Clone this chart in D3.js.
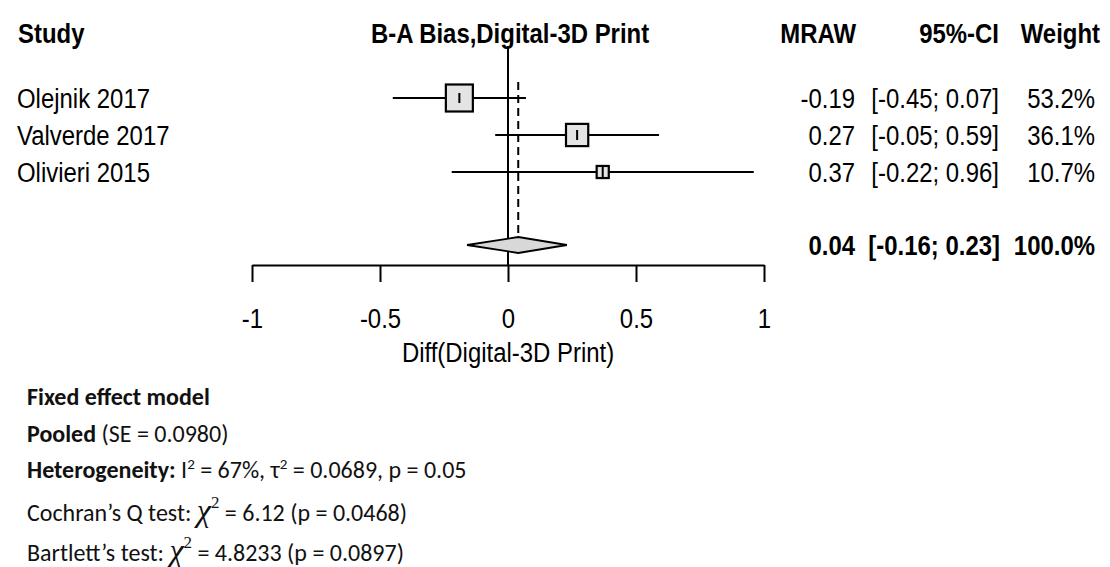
<!DOCTYPE html>
<html lang="en">
<head>
  <meta charset="UTF-8">
  <title>Forest plot</title>
  <style>
    body { margin: 0; background: #fff; }
    svg { display: block; }
    .nar { font-family: "Liberation Sans", Arial, sans-serif; font-size: 28px; }
    .cal { font-family: Carlito, Lato, sans-serif; }
  </style>
</head>
<body>
  <svg width="1110" height="567"></svg>
  <script src="https://d3js.org/d3.v7.min.js"></script>
  <script>
    // study-level data
    var studies = ['Olejnik 2017', 'Valverde 2017', 'Olivieri 2015'];
    var mraw = [-0.19, 0.27, 0.37];
    var ciLow = [-0.45, -0.05, -0.22];
    var ciHigh = [0.07, 0.59, 0.96];
    var weights = [53.2, 36.1, 10.7];
    // fixed effect summary: estimate, lower, upper, weight
    var pooled = [0.04, -0.16, 0.23, 100.0];
    var xTicks = [-1, -0.5, 0, 0.5, 1];
    var headers = ['Study', 'B-A Bias,Digital-3D Print', 'MRAW', '95%-CI', 'Weight'];
    var xTitle = 'Diff(Digital-3D Print)';

    var svg = d3.select('svg');
    var squeeze = 0.855;   // the original figure is horizontally compressed

    var x = d3.scaleLinear().domain([-1, 1]).range([252, 764]);
    var y = d3.scaleLinear().domain([0, 1]).range([98, 135]);   // row index -> y
    var size = d3.scaleSqrt().domain([0, 53.2]).range([0, 27]);
    var summaryRow = 4;
    var fmt = v => (v < 0 ? '-' : '') + Math.abs(v).toFixed(2);

    // narrow text helper
    function nt(parent, tx, ty, anchor, str, bold) {
      return parent.append('text')
        .attr('class', 'nar')
        .attr('transform', 'translate(' + [tx, ty] + ') scale(' + squeeze + ',1)')
        .attr('text-anchor', anchor || 'start')
        .attr('dy', '0.36em')
        .style('font-weight', bold ? 'bold' : null)
        .text(str);
    }

    // headers
    var hy = 33;
    nt(svg, 18, hy, 'start', headers[0], true);
    nt(svg, x(0) + 2, hy, 'middle', headers[1], true);
    nt(svg, 856, hy, 'end', headers[2], true);
    nt(svg, 999, hy, 'end', headers[3], true);
    nt(svg, 1100, hy, 'end', headers[4], true);

    // reference line at 0 and summary dashed line
    svg.append('line')
      .attr('x1', x(0)).attr('x2', x(0))
      .attr('y1', 46).attr('y2', 265)
      .attr('stroke', '#000').attr('stroke-width', 2);
    svg.append('line')
      .attr('x1', x(pooled[0])).attr('x2', x(pooled[0]))
      .attr('y1', 82).attr('y2', y(summaryRow) - 8)
      .attr('stroke', '#000').attr('stroke-width', 2)
      .attr('stroke-dasharray', '8,5');

    // study rows
    var rows = svg.selectAll('g.row').data(studies).enter().append('g').attr('class', 'row');
    rows.append('line')
      .attr('x1', (d, i) => x(ciLow[i])).attr('x2', (d, i) => x(ciHigh[i]))
      .attr('y1', (d, i) => y(i)).attr('y2', (d, i) => y(i))
      .attr('stroke', '#000').attr('stroke-width', 2);
    rows.append('rect')
      .attr('x', (d, i) => x(mraw[i]) - size(weights[i]) / 2)
      .attr('y', (d, i) => y(i) - size(weights[i]) / 2)
      .attr('width', (d, i) => size(weights[i]))
      .attr('height', (d, i) => size(weights[i]))
      .attr('fill', '#e4e4e4').attr('stroke', '#000').attr('stroke-width', 2.2);
    rows.append('line')
      .attr('x1', (d, i) => x(mraw[i])).attr('x2', (d, i) => x(mraw[i]))
      .attr('y1', (d, i) => y(i) - Math.min(5, size(weights[i]) / 2))
      .attr('y2', (d, i) => y(i) + Math.min(5, size(weights[i]) / 2))
      .attr('stroke', '#000').attr('stroke-width', 2);

    rows.each(function (d, i) {
      var g = d3.select(this);
      nt(g, 17, y(i), 'start', d);
      nt(g, 855, y(i), 'end', fmt(mraw[i]));
      nt(g, 999, y(i), 'end', '[' + fmt(ciLow[i]) + '; ' + fmt(ciHigh[i]) + ']');
      nt(g, 1095, y(i), 'end', weights[i].toFixed(1) + '%');
    });

    // summary diamond
    var ys = y(summaryRow) - 1;
    svg.append('path')
      .attr('d', 'M' + x(pooled[1]) + ',' + ys + 'L' + x(pooled[0]) + ',' + (ys - 8) +
        'L' + x(pooled[2]) + ',' + ys + 'L' + x(pooled[0]) + ',' + (ys + 8) + 'Z')
      .attr('fill', '#d8d8d8').attr('stroke', '#000').attr('stroke-width', 1.8);
    nt(svg, 855, ys, 'end', fmt(pooled[0]), true);
    nt(svg, 1000, ys, 'end', '[' + fmt(pooled[1]) + '; ' + fmt(pooled[2]) + ']', true);
    nt(svg, 1095, ys, 'end', pooled[3].toFixed(1) + '%', true);

    // x axis
    var xAxis = d3.axisBottom(x)
      .tickValues(xTicks)
      .tickSize(17)
      .tickSizeOuter(0)
      .tickPadding(26)
      .tickFormat(d => String(d));
    var ax = svg.append('g')
      .attr('transform', 'translate(0,265)')
      .call(xAxis);
    ax.select('.domain').attr('stroke-width', 2);
    ax.selectAll('.tick line').attr('stroke-width', 2);
    ax.selectAll('.tick text')
      .attr('class', 'nar')
      .attr('fill', '#000')
      .attr('transform', 'scale(' + squeeze + ',1)');
    nt(svg, x(0), 352, 'middle', xTitle);

    // model statistics
    var bt = svg.append('g').attr('class', 'cal').style('font-size', '24px').attr('fill', '#111');
    var t1 = bt.append('text').attr('x', 27).attr('y', 405);
    t1.append('tspan').style('font-weight', 'bold').text('Fixed effect model');

    var t2 = bt.append('text').attr('x', 27).attr('y', 442);
    t2.append('tspan').style('font-weight', 'bold').text('Pooled');
    t2.append('tspan').text(' (SE = 0.0980)');

    var t3 = bt.append('text').attr('x', 27).attr('y', 478);
    t3.append('tspan').style('font-weight', 'bold').text('Heterogeneity:');
    t3.append('tspan').text(' I');
    t3.append('tspan').attr('dy', -9).style('font-size', '15px').text('2');
    t3.append('tspan').attr('dy', 9).text(' = 67%, \u03c4');
    t3.append('tspan').attr('dy', -9).style('font-size', '15px').text('2');
    t3.append('tspan').attr('dy', 9).text(' = 0.0689, p = 0.05');

    function chiLine(yy, label, rest) {
      var t = bt.append('text').attr('x', 27).attr('y', yy);
      t.append('tspan').text(label);
      t.append('tspan').style('font-family', '"Liberation Serif", serif')
        .style('font-style', 'italic').style('font-size', '32px').text('\u03c7');
      t.append('tspan').attr('dy', -13).style('font-family', '"Liberation Serif", serif')
        .style('font-size', '17px').text('2');
      t.append('tspan').attr('dy', 13).text(rest);
    }
    chiLine(521, 'Cochran\u2019s Q test: ', ' = 6.12 (p = 0.0468)');
    chiLine(561, 'Bartlett\u2019s test:  ', ' = 4.8233 (p = 0.0897)');
  </script>
</body>
</html>
